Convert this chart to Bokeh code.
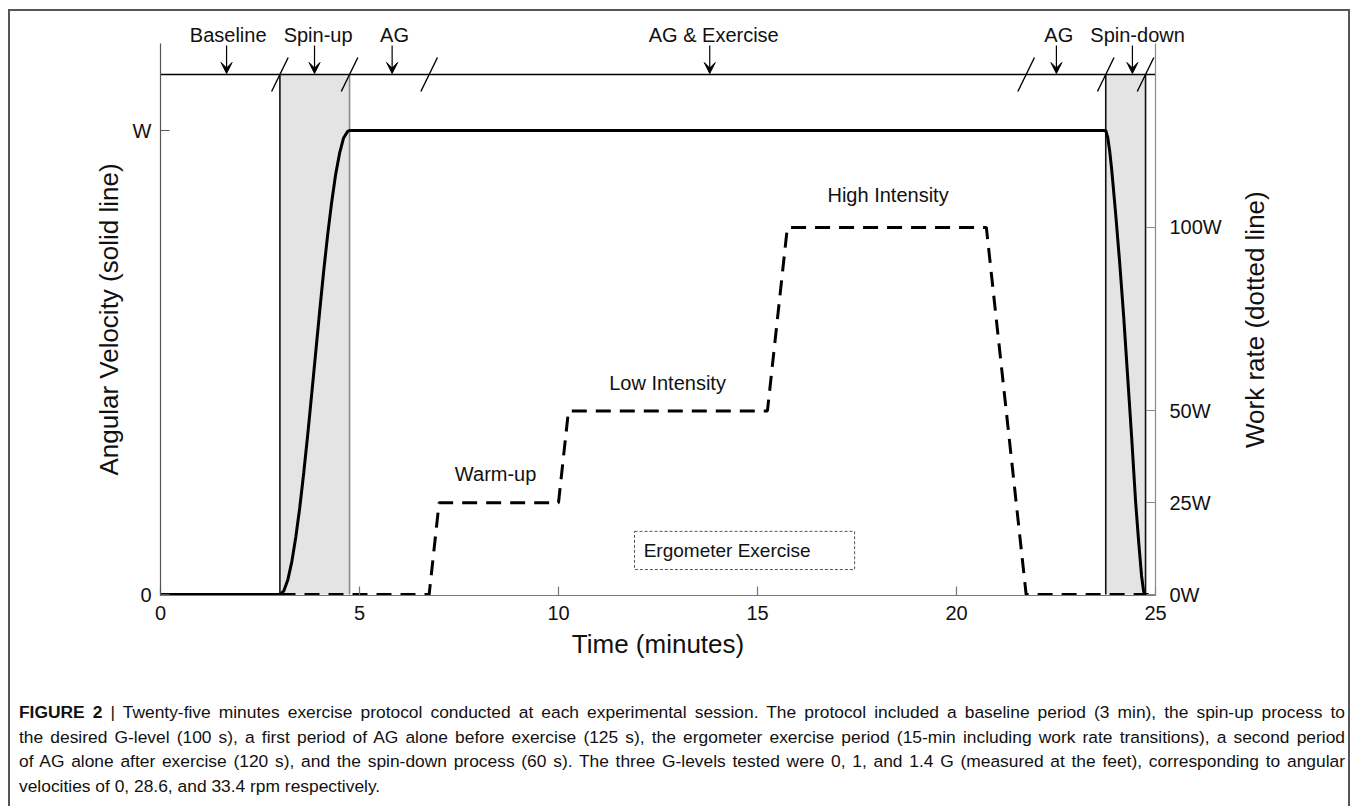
import math
from bokeh.plotting import figure
from bokeh.layouts import column
from bokeh.models import (Range1d, LinearAxis, FixedTicker, Label, Arrow, VeeHead,
                          BoxAnnotation, Div)
from bokeh.embed import file_html
from bokeh.resources import INLINE

FONT = "Liberation Sans"

# ---------------- data ----------------
time_ticks = [0, 5, 10, 15, 20, 25]
av_ticks = [0, 1]
av_tick_labels = ["0", "W"]
work_ticks = [0, 25, 50, 100]
work_tick_labels = ["0W", "25W", "50W", "100W"]

# angular velocity, as a fraction of the target value "W" (solid line)
av_time = [0.0, 3.0, 3.1, 3.2, 3.3, 3.4, 3.5, 3.6, 3.7, 3.8, 3.9, 4.0, 4.1, 4.2,
           4.3, 4.4, 4.5, 4.6, 4.7, 4.75,
           23.75, 23.8, 23.85, 23.9, 24.0, 24.1, 24.2, 24.3, 24.4, 24.5, 24.58,
           24.65, 24.7, 24.72, 24.75]
av_value = [0.0, 0.0, 0.008, 0.032, 0.071, 0.124, 0.188, 0.263, 0.345, 0.433,
            0.522, 0.611, 0.697, 0.775, 0.845, 0.905, 0.951, 0.984, 0.998, 1.0,
            1.0, 0.985, 0.955, 0.915, 0.82, 0.715, 0.6, 0.47, 0.34, 0.2, 0.11,
            0.04, 0.008, 0.0, 0.0]

# ergometer work rate in watts (dashed line)
wr_time = [0.0, 6.75, 7.0, 10.0, 10.25, 15.25, 15.75, 20.75, 21.75, 25.0]
wr_value = [0, 0, 25, 25, 50, 50, 100, 100, 0, 0]

# where "W" sits on the work-rate scale
W_ON_WORK_SCALE = 126.4

# protocol phases (top annotations)
phase_names = ["Baseline", "Spin-up", "AG", "AG & Exercise", "AG", "Spin-down"]
phase_label_x = [1.70, 3.96, 5.88, 13.9, 22.57, 24.55]
phase_arrow_x = [1.66, 3.87, 5.82, 13.8, 22.51, 24.42]
phase_breaks = [3.0, 4.75, 6.75, 21.75, 23.75, 24.75]
spin_start = [3.0, 23.75]
spin_end = [4.75, 24.75]
edge_x = [3.0, 4.75, 23.75, 24.75]
edge_color = ["#111111", "#8a8a8a", "#111111", "#111111"]

# exercise stages
stage_names = ["Warm-up", "Low Intensity", "High Intensity"]
stage_x = [8.42, 12.74, 18.28]
stage_w = [32.9, 57.7, 108.9]
ergo_text = "Ergometer Exercise"
ergo_left, ergo_right, ergo_bottom, ergo_top = 11.91, 17.44, 6.8, 17.2
ergo_text_x, ergo_text_y = 12.14, 12.0

x_title = "Time (minutes)"
left_title = "Angular Velocity (solid line)"
right_title = "Work rate (dotted line)"
right_title_start = 39.9      # work-rate level where the right title begins

caption_head = "FIGURE 2"
caption_lines = [
    "Twenty-five minutes exercise protocol conducted at each experimental session. The protocol included a baseline period (3 min), the spin-up process to",
    "the desired G-level (100 s), a first period of AG alone before exercise (125 s), the ergometer exercise period (15-min including work rate transitions), a second period",
    "of AG alone after exercise (120 s), and the spin-down process (60 s). The three G-levels tested were 0, 1, and 1.4 G (measured at the feet), corresponding to angular",
    "velocities of 0, 28.6, and 33.4 rpm respectively.",
]

# ---------------- page geometry ----------------
ORIGIN_X, ORIGIN_Y = 10, 11          # page position of the canvas (inside the border)
CANVAS_W = 1338
CAPTION_TOP = 700
MAIN_H = CAPTION_TOP - ORIGIN_Y
CAP_H = 806 - CAPTION_TOP

PX_PER_MIN = 995 / 25.0
PX_PER_W = 464.0
X0_PAGE, Y0_PAGE = 160, 594


def yd(py):
    return (Y0_PAGE - py) / PX_PER_W


F_LEFT, F_RIGHT, F_TOP, F_BOTTOM = 160, 1155, 43, 595
y_lo, y_hi = yd(F_BOTTOM), yd(F_TOP)
TOP_LINE = yd(74)

p = figure(width=CANVAS_W, height=MAIN_H, output_backend="svg", toolbar_location=None,
           x_range=Range1d(0, 25), y_range=Range1d(y_lo, y_hi),
           min_border_left=F_LEFT - ORIGIN_X,
           min_border_right=CANVAS_W - (F_RIGHT - ORIGIN_X),
           min_border_top=F_TOP - ORIGIN_Y,
           min_border_bottom=MAIN_H - (F_BOTTOM - ORIGIN_Y))
p.outline_line_color = None
p.xgrid.visible = False
p.ygrid.visible = False
p.background_fill_color = "white"
p.border_fill_color = "white"

p.extra_y_ranges = {"work": Range1d(y_lo * W_ON_WORK_SCALE, y_hi * W_ON_WORK_SCALE)}


def style_axis(ax, color):
    ax.axis_line_color = color
    ax.axis_line_width = 1.2
    ax.major_tick_line_color = color
    ax.major_tick_line_width = 1.2
    ax.major_tick_in = 9
    ax.major_tick_out = 0
    ax.minor_tick_line_color = None
    ax.major_label_text_font = FONT
    ax.major_label_text_font_size = "20px"
    ax.major_label_text_color = "#111111"
    ax.axis_label_text_font = FONT
    ax.axis_label_text_font_size = "26px"
    ax.axis_label_text_font_style = "normal"
    ax.axis_label_text_color = "#111111"


def text_only_axis(ax, size):
    ax.axis_line_color = None
    ax.major_tick_line_color = None
    ax.minor_tick_line_color = None
    ax.major_tick_in = 0
    ax.major_tick_out = 0
    ax.major_label_text_font = FONT
    ax.major_label_text_font_size = size
    ax.major_label_text_color = "#111111"


xa = p.xaxis[0]
style_axis(xa, "#777777")
xa.ticker = FixedTicker(ticks=time_ticks)
xa.major_label_standoff = 10
xa.axis_label = x_title
xa.axis_label_standoff = 6

ya = p.yaxis[0]
style_axis(ya, "#555555")
ya.ticker = FixedTicker(ticks=av_ticks)
ya.major_label_overrides = dict(zip(av_ticks, av_tick_labels))
ya.major_label_standoff = 9
ya.axis_label = left_title
ya.axis_label_standoff = 6

ra = LinearAxis(y_range_name="work")
style_axis(ra, "#8a8a8a")
ra.ticker = FixedTicker(ticks=work_ticks)
ra.major_label_overrides = dict(zip(work_ticks, work_tick_labels))
ra.major_label_standoff = 14
p.add_layout(ra, "right")

# right-hand title, reading bottom-to-top like the reference
rt = LinearAxis(y_range_name="work")
text_only_axis(rt, "26px")
rt.ticker = FixedTicker(ticks=[right_title_start])
rt.major_label_overrides = {right_title_start: right_title}
rt.major_label_orientation = math.pi / 2
rt.major_label_standoff = 31
p.add_layout(rt, "right")

# phase names along the top
ta = LinearAxis()
text_only_axis(ta, "20px")
ta.ticker = FixedTicker(ticks=phase_label_x)
ta.major_label_overrides = dict(zip(phase_label_x, phase_names))
ta.major_label_standoff = -2
p.add_layout(ta, "above")

# shaded spin-up / spin-down periods
p.quad(left=spin_start, right=spin_end, bottom=0, top=TOP_LINE,
       fill_color="#e4e4e4", line_color=None)
p.segment(x0=edge_x, y0=[0] * len(edge_x), x1=edge_x, y1=[TOP_LINE] * len(edge_x),
          line_color=edge_color, line_width=1.6)

# timeline at the top
p.segment(x0=[0], y0=[TOP_LINE], x1=[25], y1=[TOP_LINE], line_color="black", line_width=1.6)
dxs = 8.3 / PX_PER_MIN
p.segment(x0=[b - dxs for b in phase_breaks], y0=[yd(91)] * len(phase_breaks),
          x1=[b + dxs for b in phase_breaks], y1=[yd(57)] * len(phase_breaks),
          line_color="black", line_width=1.4)

# curves
p.line(wr_time, wr_value, y_range_name="work", line_color="black",
       line_width=3, line_dash="15 9")
p.line(av_time, av_value, line_color="black", line_width=3)

for axx in phase_arrow_x:
    p.add_layout(Arrow(end=VeeHead(size=11, fill_color="black", line_color="black"),
                       x_start=axx, y_start=yd(45), x_end=axx, y_end=yd(73),
                       line_color="black", line_width=1.2))

for name, sx, sw in zip(stage_names, stage_x, stage_w):
    p.add_layout(Label(x=sx, y=sw, y_range_name="work", text=name, text_align="center",
                       text_baseline="middle", text_font=FONT,
                       text_font_size="20px", text_color="#111111"))

p.add_layout(BoxAnnotation(left=ergo_left, right=ergo_right, bottom=ergo_bottom,
                           top=ergo_top, y_range_name="work", fill_color=None,
                           fill_alpha=0, line_color="#555555", line_width=1,
                           line_dash="3 2", line_alpha=1))
p.add_layout(Label(x=ergo_text_x, y=ergo_text_y, y_range_name="work", text=ergo_text,
                   text_align="left", text_baseline="middle", text_font=FONT,
                   text_font_size="19px", text_color="#111111"))

# ---------------- caption ----------------
rows = []
for i, line in enumerate(caption_lines):
    last = "justify" if i < len(caption_lines) - 1 else "left"
    body = line if i else "<b>%s</b> | %s" % (caption_head, line)
    rows.append('<div style="text-align:justify;text-align-last:%s;white-space:nowrap;">%s</div>'
                % (last, body))
cap_html = ('<div style="font-family:\'Liberation Sans\',Arial,sans-serif;font-size:17.4px;'
            'line-height:24.5px;color:#111111;width:1326px;margin:0 0 0 9px;padding:0;">'
            + "".join(rows) + "</div>")
cap = Div(text=cap_html, width=CANVAS_W, height=CAP_H, margin=0)

layout = column(p, cap, spacing=0,
                styles={"margin-left": "8px", "margin-top": "9px",
                        "border": "2px solid #555555", "border-bottom": "none"})

open("out.html", "w").write(file_html(layout, INLINE))
